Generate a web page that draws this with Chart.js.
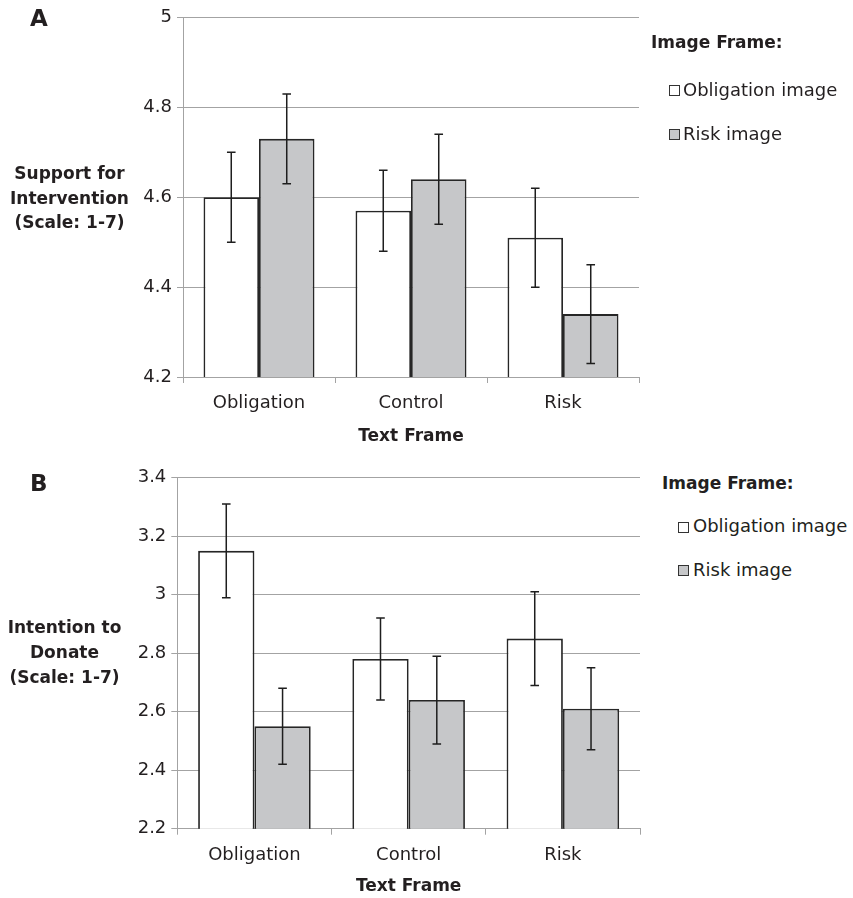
<!DOCTYPE html>
<html>
<head>
<meta charset="utf-8">
<script src="https://cdn.jsdelivr.net/npm/chart.js@4.4.1/dist/chart.umd.min.js"></script>
<style>
  body { margin: 0; background: #fff; font-family: "DejaVu Sans", sans-serif; color: #231f20; }
  #page { position: relative; width: 853px; height: 898px; overflow: hidden; }
  canvas { position: absolute; left: 0; }
  .panel { position: absolute; font-weight: bold; font-size: 23px; line-height: 23px; }
  .ylab { position: absolute; width: 141px; text-align: center; font-weight: bold; font-size: 17px; }
  .legtitle { position: absolute; font-weight: bold; font-size: 17px; line-height: 17px; white-space: nowrap; }
  .legtext { position: absolute; font-size: 18px; line-height: 18px; white-space: nowrap; }
  .legbox { position: absolute; width: 9px; height: 9px; border: 1px solid #333; }
</style>
</head>
<body>
<div id="page">
  <canvas id="chartA" width="660" height="447" style="top:0px"></canvas>
  <canvas id="chartB" width="660" height="447" style="top:450px"></canvas>

  <div class="panel" style="left:30px; top:7px">A</div>
  <div class="ylab" style="left:-1px; top:161px; line-height:24.5px">Support for<br>Intervention<br>(Scale: 1-7)</div>

  <div class="panel" style="left:30px; top:472px">B</div>
  <div class="ylab" style="left:-6px; top:615px; line-height:24.75px">Intention to<br>Donate<br>(Scale: 1-7)</div>

  <div id="legendA"></div>
  <div id="legendB"></div>
</div>
<script>
// data
const categories = ['Obligation', 'Control', 'Risk'];
const seriesNames = ['Obligation image', 'Risk image'];
const seriesColors = ['#ffffff', '#c6c7c9'];

const supportObligationImg = [4.60, 4.57, 4.51];
const supportRiskImg = [4.73, 4.64, 4.34];
const supportObligationErr = [0.10, 0.09, 0.11];
const supportRiskErr = [0.10, 0.10, 0.11];
const supportTicks = [4.2, 4.4, 4.6, 4.8, 5];

const donateObligationImg = [3.15, 2.78, 2.85];
const donateRiskImg = [2.55, 2.64, 2.61];
const donateObligationErr = [0.16, 0.14, 0.16];
const donateRiskErr = [0.13, 0.15, 0.14];
const donateTicks = [2.2, 2.4, 2.6, 2.8, 3, 3.2, 3.4];

const textColor = '#231f20';
const gridColor = '#a3a3a3';
const family = '"DejaVu Sans", sans-serif';

// error bars drawn on top of the bars
const errorBars = {
  id: 'errorBars',
  afterDatasetsDraw(chart) {
    const ctx = chart.ctx;
    const y = chart.scales.y;
    ctx.save();
    ctx.strokeStyle = '#1e1e1e';
    ctx.lineWidth = 1.5;
    chart.data.datasets.forEach((ds, i) => {
      chart.getDatasetMeta(i).data.forEach((bar, j) => {
        const hi = y.getPixelForValue(ds.data[j] + ds.errors[j]);
        const lo = y.getPixelForValue(ds.data[j] - ds.errors[j]);
        ctx.beginPath();
        ctx.moveTo(bar.x, hi); ctx.lineTo(bar.x, lo);
        ctx.moveTo(bar.x - 4.3, hi); ctx.lineTo(bar.x + 4.3, hi);
        ctx.moveTo(bar.x - 4.3, lo); ctx.lineTo(bar.x + 4.3, lo);
        ctx.stroke();
      });
    });
    ctx.restore();
  }
};

function makeChart(id, values, errors, ticks, frame) {
  return new Chart(document.getElementById(id), {
    type: 'bar',
    data: {
      labels: categories,
      datasets: values.map((v, i) => ({
        label: seriesNames[i],
        data: v,
        errors: errors[i],
        backgroundColor: seriesColors[i],
        borderColor: '#262626',
        borderWidth: 1.8,
        categoryPercentage: 0.73,
        barPercentage: 1.0
      }))
    },
    options: {
      responsive: false,
      animation: false,
      devicePixelRatio: 1,
      layout: { padding: { top: frame.top, right: frame.right, bottom: 0, left: 0 } },
      plugins: { legend: { display: false }, tooltip: { enabled: false } },
      scales: {
        x: {
          ticks: { font: { family: family, size: 18 }, color: textColor, padding: 9.5 },
          grid: { drawOnChartArea: false, tickLength: 6, color: gridColor, offset: true },
          border: { color: gridColor },
          title: {
            display: true, text: 'Text Frame', color: textColor, padding: 0,
            font: { family: family, size: 17, weight: 'bold' }
          },
          afterFit: s => { s.height = frame.xHeight; }
        },
        y: {
          min: ticks[0],
          max: ticks[ticks.length - 1],
          afterBuildTicks: s => { s.ticks = ticks.map(v => ({ value: v })); },
          ticks: {
            font: { family: family, size: 18 }, color: textColor, padding: 5,
            callback: v => String(+v.toFixed(1))
          },
          grid: { color: gridColor, tickLength: 6 },
          border: { color: gridColor },
          afterFit: s => { s.width = frame.yWidth; }
        }
      }
    },
    plugins: [errorBars]
  });
}

makeChart('chartA',
  [supportObligationImg, supportRiskImg],
  [supportObligationErr, supportRiskErr],
  supportTicks,
  { top: 17.5, right: 21, xHeight: 70, yWidth: 183 });

makeChart('chartB',
  [donateObligationImg, donateRiskImg],
  [donateObligationErr, donateRiskErr],
  donateTicks,
  { top: 27.7, right: 20, xHeight: 68.3, yWidth: 177.3 });

// legends at the right of each panel
function buildLegend(id, pos) {
  const el = document.getElementById(id);
  let html = '<div class="legtitle" style="left:' + pos.titleX + 'px; top:' + pos.titleY + 'px">Image Frame:</div>';
  seriesNames.forEach((name, i) => {
    html += '<div class="legbox" style="left:' + pos.boxX + 'px; top:' + pos.boxY[i] + 'px; background:' + seriesColors[i] + '"></div>';
    html += '<div class="legtext" style="left:' + pos.textX + 'px; top:' + pos.textY[i] + 'px">' + name + '</div>';
  });
  el.innerHTML = html;
}

buildLegend('legendA', { titleX: 651, titleY: 34, boxX: 669, boxY: [85, 128.5], textX: 683, textY: [81, 125] });
buildLegend('legendB', { titleX: 662, titleY: 474.5, boxX: 678, boxY: [521.5, 565], textX: 693, textY: [517, 560.5] });
</script>
</body>
</html>
